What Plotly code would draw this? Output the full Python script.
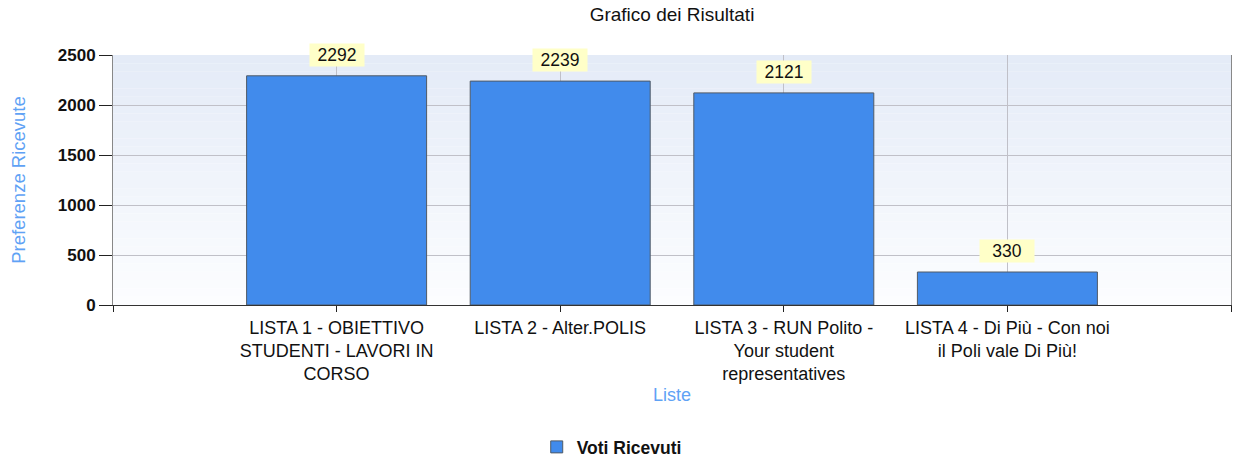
import plotly.graph_objects as go

categories = [
    "LISTA 1 - OBIETTIVO<br>STUDENTI - LAVORI IN<br>CORSO",
    "LISTA 2 - Alter.POLIS",
    "LISTA 3 - RUN Polito -<br>Your student<br>representatives",
    "LISTA 4 - Di Più - Con noi<br>il Poli vale Di Più!",
]
values = [2292, 2239, 2121, 330]
series_name = "Voti Ricevuti"
y_ticks = [0, 500, 1000, 1500, 2000, 2500]

FONT = "Liberation Sans, Arial, sans-serif"

xpos = list(range(len(categories)))

fig = go.Figure()
fig.add_trace(go.Bar(
    x=xpos, y=values, name=series_name,
    width=0.805,
    marker=dict(color="#418bec", line=dict(color="#505a66", width=1)),
    showlegend=True,
))

# gradient background bands
n = 30
top = (228, 235, 247)
bot = (252, 253, 255)
shapes = []
for i in range(n):
    t = i / (n - 1)
    c = tuple(round(top[k] + (bot[k] - top[k]) * t) for k in range(3))
    shapes.append(dict(type="rect", xref="x domain", yref="y domain",
                       x0=0, x1=1, y0=1 - (i + 1) / n, y1=1 - i / n,
                       fillcolor="rgb(%d,%d,%d)" % c, line=dict(width=0),
                       layer="below"))

annotations = []
for i, v in enumerate(values):
    annotations.append(dict(x=i, y=v, xref="x", yref="y", text=str(v),
                            showarrow=False, yanchor="bottom", yshift=9,
                            bgcolor="#ffffc8", borderpad=1, width=52, height=20,
                            font=dict(family=FONT, size=17.5, color="#111")))

fig.update_layout(
    width=1234, height=459,
    margin=dict(l=113, r=3, t=55, b=154, autoexpand=False),
    paper_bgcolor="white", plot_bgcolor="white",
    shapes=shapes, annotations=annotations,
    title=dict(text="Grafico dei Risultati", x=0.5, xanchor="center",
               xref="paper", y=1 - 14 / 459, yref="container", yanchor="middle",
               font=dict(family=FONT, size=19, color="#111")),
    font=dict(family=FONT),
    showlegend=True,
    legend=dict(orientation="h", x=0.379, xanchor="left", y=12 / 459,
                yref="container", yanchor="middle",
                font=dict(family=FONT, size=17.5, color="#111", weight="bold")),
)
fig.update_xaxes(
    range=[-1, 4], tickmode="array", tickvals=[-1] + xpos + [4],
    ticktext=[""] + categories + [""], ticks="outside", ticklen=6,
    tickcolor="#222",
    showgrid=True, gridcolor="#c0c0c8", gridwidth=1,
    showline=True, linecolor="#333", linewidth=1, mirror=False,
    tickfont=dict(family=FONT, size=18, color="#111"),
    title=dict(text="Liste", font=dict(family=FONT, size=18, color="#5fa2f5"),
               standoff=4),
    zeroline=False, automargin=False,
)
fig.update_yaxes(
    range=[0, 2500], tickmode="array", tickvals=y_ticks,
    ticks="outside", ticklen=13, tickcolor="#222",
    showgrid=True, gridcolor="#c0c0c8", gridwidth=1,
    showline=True, linecolor="#888", linewidth=1, mirror=True,
    tickfont=dict(family=FONT, size=17, color="#111", weight="bold"),
    title=dict(text="Preferenze Ricevute",
               font=dict(family=FONT, size=18.5, color="#5fa2f5"), standoff=27),
    zeroline=False, automargin=False,
)
fig.write_html("out.html", config={"displayModeBar": False},
               post_script="document.body.style.margin='0';")
